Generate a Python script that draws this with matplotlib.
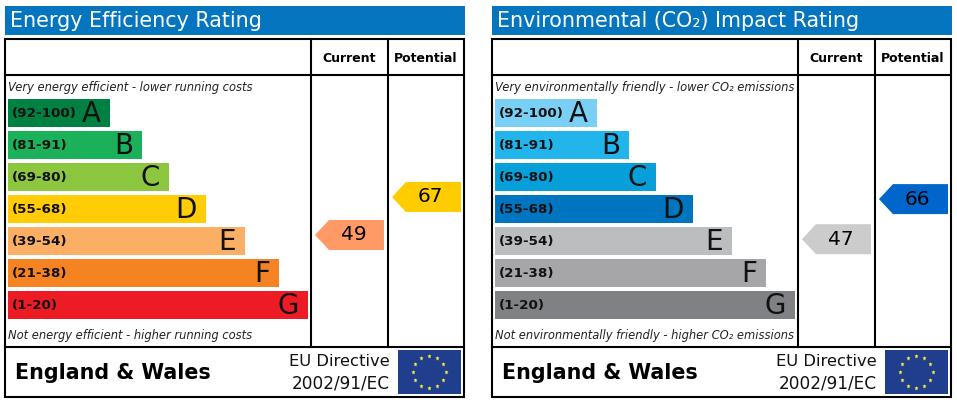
# EPC style rating panels (energy efficiency and CO2 impact)
import numpy as np
import matplotlib
matplotlib.use('Agg')
import matplotlib.pyplot as plt
from matplotlib.patches import Rectangle, Polygon

plt.rcParams['font.family'] = ['DejaVu Sans']

bands = ['(92-100)', '(81-91)', '(69-80)', '(55-68)', '(39-54)', '(21-38)', '(1-20)']
letters = ['A', 'B', 'C', 'D', 'E', 'F', 'G']
bar_lengths = [102, 134, 161, 198, 237, 271, 300]

energy_colors = ['#008142', '#1BB05A', '#8DC63F', '#FFCC06', '#FBAF65', '#F58322', '#ED1B24']
co2_colors = ['#79D0F4', '#22B5EC', '#069FDA', '#0075BF', '#BBBDBF', '#A6A6A9', '#808184']

energy_current, energy_potential = 49, 67
co2_current, co2_potential = 47, 66

HEADER = '#0575BF'
LW = 1.5

fig = plt.figure(figsize=(9.57, 4.04), dpi=100)
ax = fig.add_axes([0, 0, 1, 1])
ax.set_xlim(0, 957)
ax.set_ylim(404, 0)
ax.axis('off')


# score to pixel row, fitted from the arrows in the picture
def score_y(score):
    return 197 + (67 - score) * 2.11


def arrow(x0, score, color):
    yc = score_y(score)
    pts = [(x0, yc), (x0 + 14, yc - 15), (x0 + 69, yc - 15), (x0 + 69, yc + 15), (x0 + 14, yc + 15)]
    ax.add_patch(Polygon(pts, closed=True, fc=color, ec='none', zorder=3))
    ax.text(x0 + 38.5, yc, str(score), ha='center', va='center', fontsize=14.5, zorder=4)


def eu_flag(x0, y0):
    ax.add_patch(Rectangle((x0, y0), 63, 44, fc='#1F3E8E', ec='none', zorder=3))
    ang = np.arange(12) * np.pi / 6
    ax.plot(x0 + 31 + 16.5 * np.cos(ang), y0 + 22 + 16 * np.sin(ang), ls='none', marker='*',
            ms=3.6, mfc='#FFEB3B', mec='none', zorder=4)


def panel(off, title, colors, top_note, bottom_note, current, potential, cur_color, pot_color):
    # header
    ax.add_patch(Rectangle((off + 5, 6), 460, 29, fc=HEADER, ec='none'))
    ax.text(off + 10, 21, title, ha='left', va='center', fontsize=14.9, color='white')

    # frame and grid
    ax.add_patch(Rectangle((off + 5.3, 38.8), 458.6, 358, fc='white', ec='black', lw=LW, zorder=2))
    ax.plot([off + 5.3, off + 463.9], [75, 75], color='black', lw=LW, zorder=2)
    ax.plot([off + 5.3, off + 463.9], [346.7, 346.7], color='black', lw=LW, zorder=2)
    ax.plot([off + 311, off + 311], [38.8, 346.7], color='black', lw=LW, zorder=2)
    ax.plot([off + 388, off + 388], [38.8, 346.7], color='black', lw=LW, zorder=2)

    ax.text(off + 349.5, 58.5, 'Current', ha='center', va='center', fontsize=9, fontweight='bold', zorder=4)
    ax.text(off + 426, 58.5, 'Potential', ha='center', va='center', fontsize=9, fontweight='bold', zorder=4)

    # bands
    rows = 113 + 32 * np.arange(len(bands))
    ax.barh(rows, bar_lengths, height=28, left=off + 8, color=colors, zorder=3)
    for y, band, letter, length in zip(rows, bands, letters, bar_lengths):
        ax.text(off + 12, y, band, ha='left', va='center', fontsize=9.7, fontweight='bold', color='#111111', zorder=4)
        ax.text(off + length - 1, y + 1, letter, ha='right', va='center', fontsize=20, color='#111111', zorder=4)

    ax.text(off + 8, 87, top_note, ha='left', va='center', fontsize=8.3, style='italic', zorder=4, color='#222222')
    ax.text(off + 8, 336, bottom_note, ha='left', va='center', fontsize=8.3, style='italic', zorder=4, color='#222222')

    arrow(off + 315, current, cur_color)
    arrow(off + 392, potential, pot_color)

    # footer
    ax.text(off + 15, 373, 'England & Wales', ha='left', va='center', fontsize=14.85, fontweight='bold', zorder=4)
    ax.text(off + 390, 362, 'EU Directive', ha='right', va='center', fontsize=11.8, color='#111111', zorder=4)
    ax.text(off + 390, 383, '2002/91/EC', ha='right', va='center', fontsize=12.2, color='#111111', zorder=4)
    eu_flag(off + 398, 350)


panel(0, 'Energy Efficiency Rating', energy_colors,
      'Very energy efficient - lower running costs',
      'Not energy efficient - higher running costs',
      energy_current, energy_potential, '#FF9966', '#FFCC00')
panel(487, 'Environmental (CO\u2082) Impact Rating', co2_colors,
      'Very environmentally friendly - lower CO\u2082 emissions',
      'Not environmentally friendly - higher CO\u2082 emissions',
      co2_current, co2_potential, '#CCCCCC', '#0066CC')

fig.savefig('out.png', dpi=100)
